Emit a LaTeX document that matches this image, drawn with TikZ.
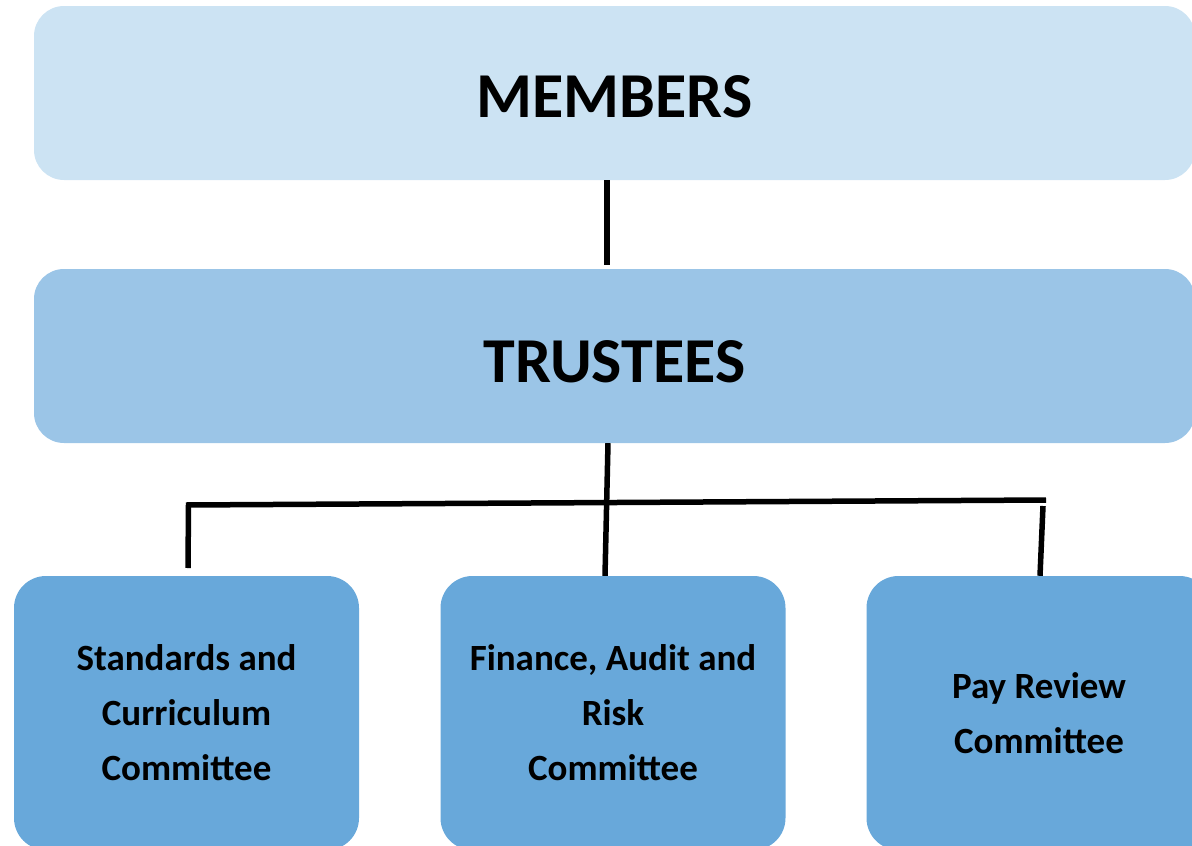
\documentclass[tikz,border=0pt]{standalone}
\usepackage{fontspec}
\setmainfont{Carlito}
\usetikzlibrary{calc}
\definecolor{cmem}{HTML}{CCE3F3}
\definecolor{ctru}{HTML}{9BC5E7}
\definecolor{ccom}{HTML}{68A8DA}
\begin{document}
\begin{tikzpicture}[x=1pt,y=-1pt,
  bigbox/.style={rounded corners=30pt, minimum width=1161pt, minimum height=174pt, inner sep=0pt,
    text depth=0pt, font=\fontsize{64}{70}\selectfont\bfseries},
  combox/.style={fill=ccom, rounded corners=32pt, minimum width=345pt, minimum height=274pt, inner sep=0pt,
    align=center, font=\fontsize{37}{55}\selectfont\bfseries},
  conn/.style={line width=5.5pt, black}]
\useasboundingbox (0,0) rectangle (1192,846);
\clip (0,0) rectangle (1192,846);
\node[bigbox, fill=cmem, text height=48pt] (members) at (614.5,93) {MEMBERS};
\node[bigbox, fill=ctru, text height=52pt] (trustees) at (614.5,356) {TRUSTEES};
\node[combox] (sc) at (186.5,713) {Standards and\\Curriculum\\Committee};
\node[combox] (far) at (613,713) {Finance, Audit and\\Risk\\Committee};
\node[combox] (pay) at (1039,713) {Pay Review\\Committee};
\coordinate (hl) at (186,505);
\coordinate (hr) at (1046,500);
\coordinate (scend) at (188,568);
\coordinate (trtop) at (607,265);
\draw[conn] (members.south -| 607,0) -- (trtop);
\draw[conn] (trustees.south -| 608,0) -- (far.north -| 605,0);
\draw[conn] (hl) -- (hr);
\draw[conn] ($(hl)+(2.5,0)$) -- (scend);
\draw[conn] (1043,506) -- (pay.north -| 1040,0);
\end{tikzpicture}
\end{document}
